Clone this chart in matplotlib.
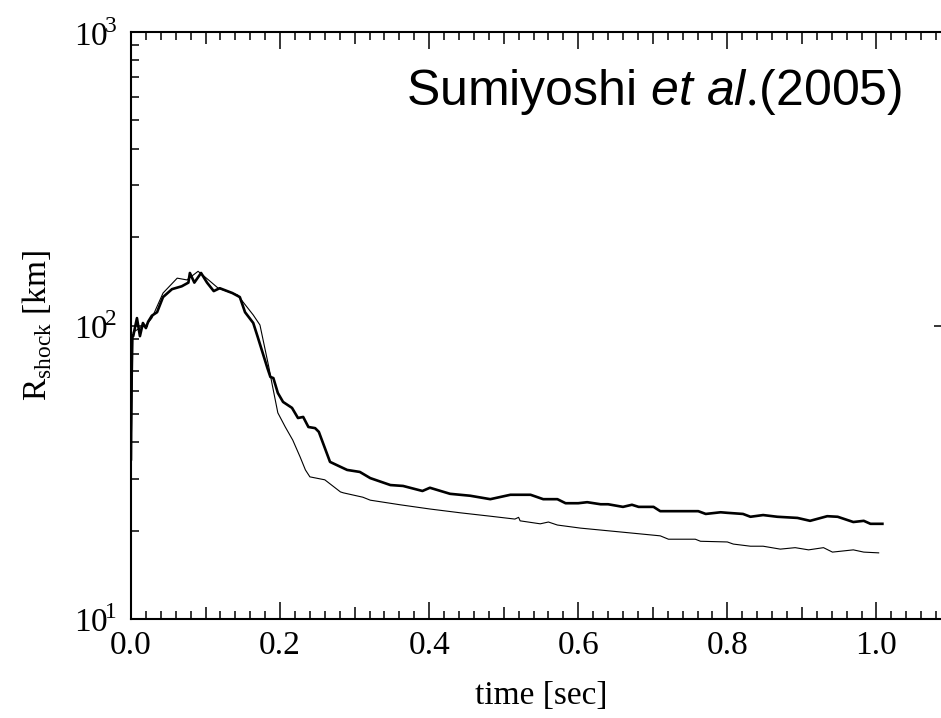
import numpy as np
import matplotlib
matplotlib.use("Agg")
import matplotlib.pyplot as plt
from matplotlib.ticker import MultipleLocator, LogLocator, NullFormatter

plt.rcParams['font.family'] = ['Liberation Serif', 'DejaVu Serif']
plt.rcParams['mathtext.fontset'] = 'custom'
plt.rcParams['mathtext.rm'] = 'Liberation Serif'
plt.rcParams['mathtext.it'] = 'Liberation Sans:italic'

# thick curve
t_thick = [0.0, 0.001, 0.003, 0.008, 0.012, 0.016, 0.020, 0.023, 0.028, 0.035,
           0.043, 0.055, 0.068, 0.077, 0.079, 0.085, 0.094, 0.102, 0.111, 0.119,
           0.136, 0.146, 0.153, 0.164, 0.170, 0.183, 0.187, 0.191, 0.197, 0.204,
           0.216, 0.224, 0.231, 0.238, 0.247, 0.252, 0.267, 0.281, 0.290, 0.307,
           0.321, 0.348, 0.365, 0.391, 0.401, 0.428, 0.455, 0.482, 0.509, 0.536,
           0.553, 0.572, 0.583, 0.600, 0.612, 0.630, 0.640, 0.660, 0.672, 0.681,
           0.701, 0.710, 0.737, 0.761, 0.771, 0.791, 0.800, 0.821, 0.831, 0.848,
           0.867, 0.894, 0.911, 0.934, 0.948, 0.969, 0.983, 0.992, 1.008]
r_thick = [35, 92, 92, 106, 92, 102, 98, 103, 108, 111,
           125, 133, 136, 140, 151, 140, 151, 140, 131, 134,
           129, 125, 111, 102, 91.4, 71.6, 66.8, 66.2, 58.9, 54.9,
           52.4, 48.4, 48.8, 45.1, 44.7, 43.4, 34.3, 33.0, 32.2, 31.7,
           30.2, 28.6, 28.4, 27.3, 28.0, 26.7, 26.3, 25.6, 26.5, 26.5,
           25.6, 25.6, 24.8, 24.8, 25.0, 24.6, 24.6, 24.1, 24.5, 24.1,
           24.1, 23.3, 23.3, 23.3, 22.8, 23.1, 23.0, 22.8, 22.3, 22.6,
           22.3, 22.1, 21.6, 22.4, 22.3, 21.4, 21.6, 21.1, 21.1]

# thin curve
t_thin = [0.0, 0.003, 0.012, 0.020, 0.028, 0.043, 0.062, 0.075, 0.090, 0.104,
          0.117, 0.143, 0.164, 0.173, 0.185, 0.189, 0.197, 0.207, 0.217, 0.227,
          0.234, 0.240, 0.260, 0.281, 0.285, 0.311, 0.321, 0.361, 0.401, 0.442,
          0.482, 0.515, 0.520, 0.522, 0.549, 0.560, 0.572, 0.603, 0.656, 0.710,
          0.721, 0.757, 0.764, 0.800, 0.808, 0.831, 0.848, 0.871, 0.891, 0.909,
          0.929, 0.941, 0.969, 0.983, 1.003]
r_thin = [35, 95, 98, 100, 106, 129, 145, 143, 153, 143,
          134, 127, 108.6, 100.4, 72.0, 63.7, 50.4, 45.1, 40.7, 35.6,
          32.2, 30.5, 29.8, 27.1, 26.9, 26.0, 25.4, 24.5, 23.7, 23.0,
          22.4, 21.9, 22.2, 21.6, 21.1, 21.4, 20.9, 20.4, 19.8, 19.2,
          18.7, 18.7, 18.4, 18.3, 18.0, 17.7, 17.7, 17.3, 17.5, 17.2,
          17.5, 16.9, 17.2, 16.9, 16.8]

fig = plt.figure(figsize=(9.41, 7.18), dpi=100)
ax = fig.add_axes([0.1392, 0.1379, 0.8714, 0.8175])

ax.plot(t_thick, r_thick, color='black', lw=1.9)
ax.plot(t_thin, r_thin, color='black', lw=0.8)

ax.set_yscale('log')
ax.set_xlim(0, 1.1)
ax.set_ylim(10, 1000)

for s in ax.spines.values():
    s.set_linewidth(1.5)

# x ticks: every 0.1 (labels on 0.2), minor every 0.02
ax.xaxis.set_major_locator(MultipleLocator(0.1))
ax.xaxis.set_major_formatter(plt.FuncFormatter(
    lambda v, p: '%.1f' % v if abs(round(v / 0.2) * 0.2 - v) < 1e-6 else ''))
ax.xaxis.set_minor_locator(MultipleLocator(0.02))
ax.yaxis.set_major_locator(LogLocator(base=10))
ax.yaxis.set_major_formatter(plt.FuncFormatter(
    lambda v, p: r'$10^{\!%d}$' % round(np.log10(v))))
ax.yaxis.set_minor_locator(LogLocator(base=10, subs=np.arange(2, 10)))
ax.yaxis.set_minor_formatter(NullFormatter())

ax.tick_params(which='both', direction='in', top=True, right=True, width=1.1,
               labelsize=24, colors='black')
ax.tick_params(axis='x', which='major', length=12.2, pad=8)
ax.tick_params(axis='x', which='minor', length=5.8)
ax.tick_params(axis='y', which='major', length=12.2, pad=10)
ax.tick_params(axis='y', which='minor', length=5.8)

ax.figure.canvas.draw()
for tk, loc in zip(ax.xaxis.get_major_ticks(), ax.xaxis.get_majorticklocs()):
    if abs(round(loc / 0.2) * 0.2 - loc) > 1e-6:
        tk.tick1line.set_markersize(8.6)
        tk.tick2line.set_markersize(8.6)

ax.set_xlabel('time [sec]', fontsize=24, labelpad=14)
ax.set_ylabel(r'R$_{\mathrm{shock}}$ [km]', fontsize=24, labelpad=14)

ax.text(902 / 941, 1 - 105 / 718, r'Sumiyoshi $\mathit{et\ al.}\!$(2005)',
        transform=fig.transFigure, ha='right', va='baseline', fontsize=36,
        family='Liberation Sans')

fig.savefig('out.png', dpi=100)
